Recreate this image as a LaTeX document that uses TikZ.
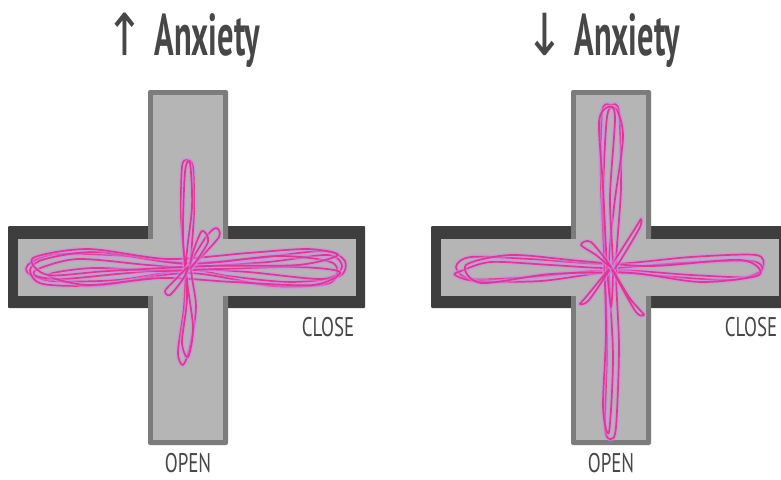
\documentclass[tikz,border=0pt]{standalone}
\usepackage{fontspec}
\newfontfamily\handfont[FakeStretch=0.7]{PT Sans}
\newfontfamily\handbold[FakeStretch=0.55]{PT Sans Bold}
\newfontfamily\arrowfont[FakeStretch=0.8]{DejaVu Sans}
\usepackage{tikz}
\usetikzlibrary{positioning}
\definecolor{wall}{HTML}{3E3E3E}
\definecolor{rim}{HTML}{7C7C7C}
\definecolor{floor}{HTML}{B5B5B5}
\definecolor{trace}{HTML}{E6358C}
\definecolor{halo}{HTML}{C88CF2}
\definecolor{pen}{HTML}{474747}

\begin{document}
\begin{tikzpicture}[x=1pt,y=-1pt,
  trail/.style={draw=trace,line width=1.7pt,line join=round,
    preaction={draw=halo,line width=4.6pt,opacity=.5}},
  tag/.style={font=\handfont\fontsize{27}{27}\selectfont,text=pen,inner sep=0pt},
  headline/.style={font=\handbold\fontsize{59}{59}\selectfont,text=pen,inner sep=0pt,anchor=base}]
  \clip (0,0) rectangle (781,479);
  \fill[white] (0,0) rectangle (781,479);
  % the two mazes
  \foreach \cx in {188,611}{
    \begin{scope}[shift={(\cx,267)}]
      \fill[wall,rounded corners=1pt] (-180,-41) rectangle (177,41);
      \fill[rim,rounded corners=2pt] (-40,-177) rectangle (40,178);
      \fill[floor] (-170,-28) rectangle (168,29);
      \fill[floor] (-35,-172) rectangle (35,173);
    \end{scope}
    \node[tag] (close\cx) at (\cx+140,327) {CLOSE};
    \node[tag] (open\cx) at (\cx,463) {OPEN};
  }
  \node[headline] (ttlup) at (183,55) {{\arrowfont\fontsize{58}{58}\selectfont\char"2191}\,Anxiety};
  \node[headline] (ttldown) at (603,55) {{\arrowfont\fontsize{58}{58}\selectfont\char"2193}\,Anxiety};
  % high anxiety: stays in the closed arms
  \begin{scope}[shift={(188,267)}]
    \draw[trail] plot[smooth cycle] coordinates {(-158,-4) (-130,-13) (-60,-11) (0,-4) (70,-9) (135,-16) (157,-6) (150,10) (100,15) (40,9) (0,3) (-70,13) (-135,14) (-160,6)};
    \draw[trail] plot[smooth cycle] coordinates {(-150,2) (-110,-8) (-40,-2) (0,0) (80,-5) (140,-12) (154,0) (135,12) (60,5) (0,2) (-60,6) (-125,12) (-152,9)};
    \draw[trail] plot[smooth cycle] coordinates {(-143,-8) (-90,-15) (0,-3) (90,-11) (145,-4) (142,16) (85,19) (0,6) (-85,18) (-145,17) (-158,3)};
    \draw[trail] plot[smooth cycle] coordinates {(-140,8) (-95,1) (-30,4) (30,2) (110,0) (152,5) (125,18) (45,15) (-25,11) (-100,18)};
    \draw[trail] plot[smooth cycle] coordinates {(-155,-9) (-100,-18) (-20,-8) (60,-14) (120,-18) (150,-12) (110,-2) (20,-1) (-80,4) (-140,8)};
    \draw[trail] plot[smooth cycle] coordinates {(-6,-100) (-1,-107) (5,-100) (6,-55) (3,0) (8,40) (2,80) (-5,98) (-10,85) (-4,40) (-3,0) (-7,-50)};
    \draw[trail] plot[smooth cycle] coordinates {(-3,-95) (2,-104) (4,-60) (-2,0) (5,60) (0,90) (-6,75) (-1,30) (-5,-30)};
    \draw[trail] plot[smooth cycle] coordinates {(0,0) (18,-30) (28,-39) (31,-30) (8,-5)};
    \draw[trail] plot[smooth cycle] coordinates {(2,2) (20,-25) (14,-36) (5,-15)};
    \draw[trail] plot[smooth cycle] coordinates {(0,0) (-15,15) (-23,24) (-18,28) (-5,12)};
  \end{scope}
  % low anxiety: explores the open arms
  \begin{scope}[shift={(611,267)}]
    \draw[trail] plot[smooth cycle] coordinates {(-155,0) (-140,-10) (-80,-8) (0,-3) (80,-10) (145,-12) (152,0) (140,10) (80,8) (0,3) (-80,10) (-140,12)};
    \draw[trail] plot[smooth cycle] coordinates {(-150,4) (-120,-5) (-60,-2) (0,1) (70,-4) (140,-6) (150,4) (120,13) (50,9) (0,5) (-70,14) (-135,14) (-156,8)};
    \draw[trail] plot[smooth cycle] coordinates {(-145,-2) (-100,-12) (-30,-6) (40,-1) (130,-7) (148,8) (90,15) (20,6) (-60,7) (-130,16)};
    \draw[trail] plot[smooth cycle] coordinates {(-9,-155) (0,-162) (8,-155) (10,-80) (5,0) (8,80) (5,160) (0,172) (-6,160) (-4,80) (-6,0) (-10,-80)};
    \draw[trail] plot[smooth cycle] coordinates {(-4,-150) (5,-158) (12,-130) (3,-60) (-2,0) (2,90) (-2,165) (-8,140) (-5,60) (-8,-60)};
    \draw[trail] plot[smooth cycle] coordinates {(-12,-145) (-3,-160) (4,-150) (-1,-70) (2,0) (0,40) (-4,0) (-8,-80)};
    \draw[trail] plot[smooth cycle] coordinates {(0,0) (25,-40) (30,-48) (28,-38) (5,0)};
    \draw[trail] plot[smooth cycle] coordinates {(0,0) (-25,30) (-31,37) (-22,33)};
    \draw[trail] plot[smooth cycle] coordinates {(0,0) (18,30) (28,42) (33,48) (25,45) (5,10)};
    \draw[trail] plot[smooth cycle] coordinates {(0,0) (-20,-25) (-30,-22) (-15,-12)};
  \end{scope}
\end{tikzpicture}
\end{document}
